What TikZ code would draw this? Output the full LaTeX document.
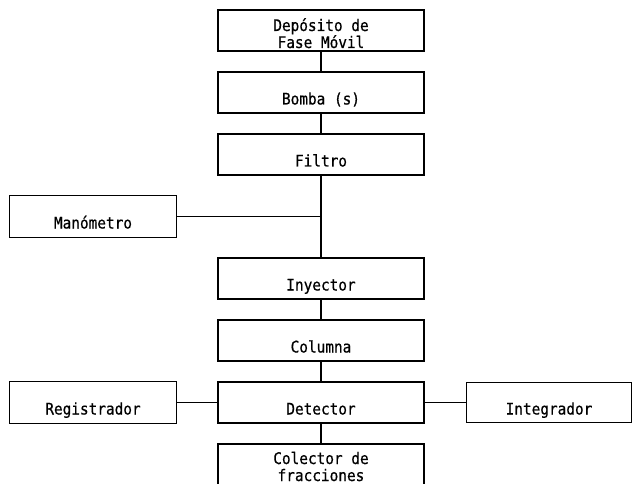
\documentclass[tikz,border=0pt]{standalone}
\usepackage{fontspec}
\newfontfamily\boxfont[FakeStretch=0.9,FakeBold=0.6]{DejaVu Sans Mono}
\usetikzlibrary{arrows,positioning}

\begin{document}
\begin{tikzpicture}[-,line width=1.5pt,
  node distance=62pt,
  box/.style={rectangle,draw,inner sep=0pt,font=\boxfont\fontsize{16}{17}\selectfont},
  main node/.style={box,minimum width=206pt,minimum height=41pt,text height=24pt,text depth=0pt},
  side node/.style={box,minimum width=167pt,minimum height=42pt,text height=24pt,text depth=0pt},
  two line node/.style={box,minimum width=206pt,minimum height=41pt,align=center,text depth=0pt}]

  \useasboundingbox (0,0) rectangle (632pt,-484pt);

  \node[two line node, text height=35pt] (0) at (321pt,-30.5pt) {Depósito de\\Fase Móvil};
  \node[main node] (1) [below of=0] {Bomba (s)};
  \node[main node] (2) [below of=1] {Filtro};
  \node[side node] (3) [left of=2, node distance=228pt, yshift=-62pt] {Manómetro};
  \node[main node] (4) [below of=2, node distance=124pt] {Inyector};
  \node[main node] (5) [below of=4] {Columna};
  \node[main node] (6) [below of=5] {Detector};
  \node[two line node, text height=30pt, minimum height=44pt] (7) [below of=6, yshift=-1.5pt] {Colector de\\fracciones};
  \node[side node] (8) [left of=6, node distance=228pt] {Registrador};
  \node[side node, minimum width=165pt, minimum height=40pt] (9) [right of=6, node distance=228pt] {Integrador};

  \path
    (0) edge (1)
    (1) edge (2)
    (2) edge (4)
    (4) edge (5)
    (5) edge (6)
    (6) edge (7)
    (8) edge (6)
    (6) edge (9)
    (3) edge (3 -| 2);

\end{tikzpicture}
\end{document}
